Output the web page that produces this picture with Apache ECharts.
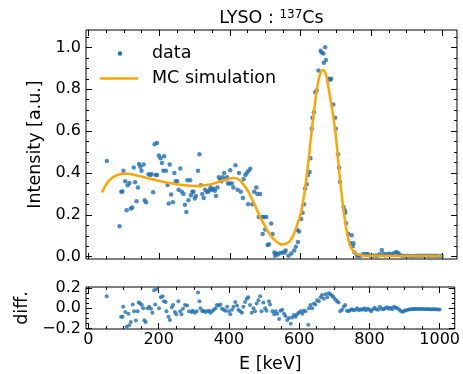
<!DOCTYPE html>
<html><head><meta charset="utf-8">
<script src="https://cdn.jsdelivr.net/npm/echarts@6/dist/echarts.min.js"></script>
<style>html,body{margin:0;padding:0;background:#fff}#c{width:463px;height:374px}</style>
</head><body><div id="c"></div>
<script>
// ---- data ----
const dataE = [52,88,93,96,99,104,108,111,116,120,124,128,132,136,140,143,147,150,156,159,163,170,175,179,183,187,191,194,194,199,204,208,212,214,219,224,227,230,234,239,243,247,251,255,260,264,269,273,277,280,283,288,290,294,297,301,304,310,314,318,322,326,330,335,339,343,346,350,354,358,361,365,369,373,376,380,384,388,392,395,399,401,406,410,416,422,426,431,437,439,444,448,452,453,458,464,469,475,478,482,486,492,493,497,500,503,507,511,517,521,526,528,531,536,542,549,555,558,566,574,582,587,591,593,596,602,606,610,613,618,621,626,628,632,634,638,642,646,651,657,660,665,666,670,672,679,684,687,693,698,700,706,709,712,722,725,727,729,735,741,745,748,750,753,760,764,770,778,786,791,798,805,812,818,824,830,835,840,845,852,859,865,871,876,880,888,896,904,912,920,928,936,944,952,960,968,976,984,992,1000];
const dataI = [0.457,0.146,0.31,0.312,0.41,0.36,0.222,0.341,0.352,0.23,0.235,0.426,0.356,0.265,0.33,0.443,0.43,0.41,0.44,0.27,0.26,0.394,0.39,0.394,0.308,0.537,0.39,0.39,0.543,0.483,0.47,0.448,0.41,0.48,0.41,0.343,0.254,0.441,0.297,0.26,0.40,0.36,0.36,0.32,0.421,0.31,0.30,0.248,0.214,0.365,0.27,0.365,0.294,0.31,0.31,0.278,0.29,0.41,0.489,0.341,0.30,0.28,0.32,0.31,0.31,0.32,0.33,0.32,0.325,0.315,0.29,0.33,0.38,0.37,0.36,0.38,0.40,0.37,0.38,0.35,0.35,0.413,0.35,0.33,0.437,0.32,0.40,0.31,0.28,0.37,0.39,0.40,0.251,0.41,0.42,0.25,0.31,0.33,0.30,0.19,0.30,0.19,0.108,0.19,0.13,0.19,0.056,0.06,0.159,0.108,0.02,0.005,0.015,0.01,0.018,0.02,0.02,0.03,0.005,0.015,0.03,0.048,0.127,0.07,0.12,0.18,0.21,0.25,0.326,0.346,0.39,0.405,0.47,0.611,0.664,0.69,0.786,0.794,0.889,0.984,0.976,0.971,0.926,1.0,0.94,0.85,0.845,0.85,0.727,0.664,0.611,0.489,0.426,0.357,0.238,0.222,0.21,0.16,0.11,0.065,0.103,0.05,0.064,0.02,0.005,0.006,0.004,0.013,0.013,0.012,0.005,0.004,0.006,0.004,0.012,0.032,0.014,0.006,0.013,0.014,0.012,0.016,0.022,0.018,0.01,0.004,0.003,0.004,0.003,0.003,0.004,0.004,0.005,0.005,0.005,0.004,0.005,0.004,0.003,0.003];

const mcE = [38,50,60,70,80,90,100,110,120,130,140,150,160,170,180,190,200,210,220,230,240,250,260,270,280,290,300,310,320,330,340,350,360,370,380,390,400,410,420,430,440,450,460,470,480,490,500,510,520,530,540,550,560,570,580,590,600,610,620,630,640,650,655,660,665,670,675,680,690,700,710,720,730,740,750,760,770,780,800,850,900,950,1000];
const mcI = [0.307,0.345,0.366,0.38,0.389,0.394,0.396,0.396,0.394,0.391,0.387,0.383,0.378,0.374,0.37,0.366,0.362,0.358,0.355,0.352,0.349,0.346,0.344,0.342,0.340,0.339,0.338,0.338,0.339,0.341,0.344,0.348,0.353,0.358,0.364,0.369,0.373,0.376,0.374,0.362,0.343,0.318,0.285,0.25,0.212,0.176,0.145,0.115,0.092,0.075,0.063,0.058,0.062,0.075,0.103,0.15,0.20,0.29,0.42,0.575,0.72,0.835,0.87,0.89,0.892,0.88,0.85,0.80,0.70,0.58,0.40,0.25,0.13,0.055,0.025,0.012,0.007,0.005,0.004,0.004,0.003,0.003,0.003];

const diffE = [52,93,97,99,105,109,114,116,121,126,130,135,140,143,147,152,156,159,163,168,173,178,182,187,190,194,201,206,211,215,220,222,228,232,237,241,246,250,256,261,265,269,275,281,286,294,297,303,308,312,316,319,324,328,333,338,343,347,352,357,362,366,371,376,380,385,390,395,400,404,409,413,418,423,427,432,437,441,446,451,455,460,465,470,474,479,484,489,493,498,503,507,514,517,524,529,533,538,543,547,552,557,561,566,571,576,580,585,590,594,599,604,609,613,618,626,628,632,637,642,646,651,656,661,665,670,675,680,684,689,694,698,703,708,712,717,722,727,731,736,741,745,750,755,760,765,770,775,780,785,790,795,800,805,810,815,820,825,830,835,840,845,850,855,860,865,870,875,880,885,890,895,900,905,910,915,920,925,930,935,940,945,950,955,960,965,970,975,980,985,990,995,1000];
const diffV = [0.117,-0.086,-0.086,0.015,-0.037,-0.184,-0.055,-0.169,-0.138,0.037,-0.031,-0.123,-0.031,0.055,0.046,0.031,0,-0.12,-0.138,0,0.015,-0.006,-0.046,0.178,0.037,0.19,0,0.108,0.117,0.068,0.061,-0.031,-0.086,-0.117,0.006,0.031,-0.037,-0.061,0.068,-0.031,-0.061,-0.006,0.031,0.025,-0.031,-0.037,-0.025,-0.046,-0.031,0.154,0.068,0,-0.031,-0.025,-0.037,-0.031,-0.025,-0.046,-0.031,-0.015,0,0.031,0.025,0.037,-0.006,-0.015,-0.025,0.015,-0.031,-0.061,-0.015,0.015,0.061,0.025,-0.015,-0.031,-0.046,0.015,0.061,0.092,0.108,0.031,-0.046,0,-0.031,0.046,0.077,0.117,-0.031,0.055,0,-0.025,0.068,0.037,-0.031,-0.061,-0.031,-0.055,-0.108,-0.025,-0.015,-0.055,-0.077,-0.117,-0.098,-0.154,-0.092,-0.068,-0.086,-0.061,-0.046,-0.031,-0.055,-0.025,-0.031,-0.163,0,0.031,0,0.046,0.037,0.077,0.068,0.108,0.129,0.092,0.138,0.108,0.147,0.138,0.123,0.108,0.086,0.068,0.055,-0.031,-0.015,0.015,0.031,-0.025,-0.031,-0.02,-0.01,-0.02,-0.015,0,-0.02,-0.01,-0.015,0,-0.02,-0.005,-0.015,-0.03,-0.01,0.005,-0.01,-0.015,0.015,-0.005,-0.01,0,0.01,-0.005,0.005,-0.01,0.015,0.005,0,-0.015,-0.03,-0.035,-0.025,-0.02,-0.015,-0.012,-0.01,-0.008,-0.008,-0.008,-0.009,-0.008,-0.008,-0.009,-0.01,-0.009,-0.01,-0.01,-0.011,-0.012,-0.012,-0.013,-0.014];

// ---- tick labels ----
const xMajor = [0,200,400,600,800,1000];
const xMinor = [50,100,150,250,300,350,450,500,550,650,700,750,850,900,950];
const yMainMajor = [0,0.2,0.4,0.6,0.8,1.0];
const yMainMinor = [0.05,0.1,0.15,0.25,0.3,0.35,0.45,0.5,0.55,0.65,0.7,0.75,0.85,0.9,0.95,1.05];
const yDiffMajor = [-0.2,0,0.2];
const yDiffMinor = [-0.15,-0.1,-0.05,0.05,0.1,0.15];

const FONT = 'DejaVu Sans';
const XMIN = -7, XMAX = 1043;

function xAx(grid, pos, ticks, len, labels) {
  return {type:'value', gridIndex:grid, position:pos, min:XMIN, max:XMAX,
    axisLine:{show:false, onZero:false}, splitLine:{show:false},
    axisTick:{show:true, inside:true, length:len, customValues:ticks, lineStyle:{color:'#000', width:1}},
    axisLabel:{show:!!labels, customValues:ticks, margin:3, color:'#000', fontFamily:FONT, fontSize:16,
      formatter:v=>String(Math.round(v))}};
}
function fmtY(v){ const a = Math.abs(v).toFixed(1); return v < -1e-9 ? '\u2212'+a : a; }
function yAx(grid, pos, ticks, len, labels, min, max) {
  return {type:'value', gridIndex:grid, position:pos, min:min, max:max,
    axisLine:{show:false, onZero:false}, splitLine:{show:false},
    axisTick:{show:true, inside:true, length:len, customValues:ticks, lineStyle:{color:'#000', width:1}},
    axisLabel:{show:!!labels, customValues:ticks, margin:5, color:'#000', fontFamily:FONT, fontSize:16, formatter:fmtY}};
}

const xAxes = [
  xAx(0,'bottom',xMajor,6,false), xAx(0,'bottom',xMinor,3,false),
  xAx(0,'top',xMajor,6,false), xAx(0,'top',xMinor,3,false),
  xAx(1,'bottom',xMajor,6,true), xAx(1,'bottom',xMinor,3,false),
  xAx(1,'top',xMajor,6,false), xAx(1,'top',xMinor,3,false)
];
xAxes[4].name = 'E [keV]'; xAxes[4].nameLocation='middle'; xAxes[4].nameGap=26;
xAxes[4].nameTextStyle = {fontFamily:FONT, fontSize:17.5, color:'#000'};

const YMIN=-0.011, YMAX=1.083, DMIN=-0.206, DMAX=0.209;
const yAxes = [
  yAx(0,'left',yMainMajor,6,true,YMIN,YMAX), yAx(0,'left',yMainMinor,3,false,YMIN,YMAX),
  yAx(0,'right',yMainMajor,6,false,YMIN,YMAX), yAx(0,'right',yMainMinor,3,false,YMIN,YMAX),
  yAx(1,'left',yDiffMajor,6,true,DMIN,DMAX), yAx(1,'left',yDiffMinor,3,false,DMIN,DMAX),
  yAx(1,'right',yDiffMajor,6,false,DMIN,DMAX), yAx(1,'right',yDiffMinor,3,false,DMIN,DMAX)
];
yAxes[0].name='Intensity [a.u.]'; yAxes[0].nameLocation='middle'; yAxes[0].nameGap=36;
yAxes[0].nameTextStyle={fontFamily:FONT, fontSize:17.5, color:'#000'};
yAxes[4].name='diff.'; yAxes[4].nameLocation='middle'; yAxes[4].nameGap=36;
yAxes[4].nameTextStyle={fontFamily:FONT, fontSize:17.5, color:'#000'};

const BLUE = '#1f6fb2', ORANGE = '#ffa500';
const chart = echarts.init(document.getElementById('c'), null, {renderer:'canvas'});
chart.setOption({
  animation:false,
  backgroundColor:'#fff',
  grid:[
    {left:86, top:30, width:371, height:229, show:true, borderColor:'#000', borderWidth:1, backgroundColor:'transparent', containLabel:false},
    {left:86, top:287, width:371, height:45, show:true, borderColor:'#000', borderWidth:1, backgroundColor:'transparent', containLabel:false}
  ],
  xAxis: xAxes,
  yAxis: yAxes,
  graphic:[
    {type:'text', x:271.5, y:18, style:{text:'{a|LYSO : }{s|137}{a|Cs}', align:'center', verticalAlign:'middle',
      rich:{a:{fontFamily:FONT, fontSize:17.5, fill:'#000', verticalAlign:'bottom'}, s:{fontFamily:FONT, fontSize:12, fill:'#000', verticalAlign:'top', padding:[0,0,6,0]}}}},
    {type:'circle', shape:{cx:120, cy:53.5, r:2.2}, style:{fill:BLUE}},
    {type:'text', x:152, y:53.5, style:{text:'data', fontFamily:FONT, fontSize:17.5, fill:'#000', align:'left', verticalAlign:'middle'}},
    {type:'line', shape:{x1:100, y1:78.5, x2:138, y2:78.5}, style:{stroke:ORANGE, lineWidth:2.5}},
    {type:'text', x:152, y:78.5, style:{text:'MC simulation', fontFamily:FONT, fontSize:17.5, fill:'#000', align:'left', verticalAlign:'middle'}}
  ],
  series:[
    {type:'scatter', name:'data', xAxisIndex:0, yAxisIndex:0, symbolSize:4.5, itemStyle:{color:BLUE},
     data: dataE.map((e,i)=>[e, dataI[i]]), z:2},
    {type:'line', name:'MC simulation', xAxisIndex:0, yAxisIndex:0, showSymbol:false, smooth:0.3,
     lineStyle:{color:ORANGE, width:2.5}, itemStyle:{color:ORANGE},
     data: mcE.map((e,i)=>[e, mcI[i]]), z:3},
    {type:'scatter', name:'diff', xAxisIndex:4, yAxisIndex:4, symbolSize:4, itemStyle:{color:BLUE},
     data: diffE.map((e,i)=>[e, diffV[i]]), z:2}
  ]
});
</script>
</body></html>
